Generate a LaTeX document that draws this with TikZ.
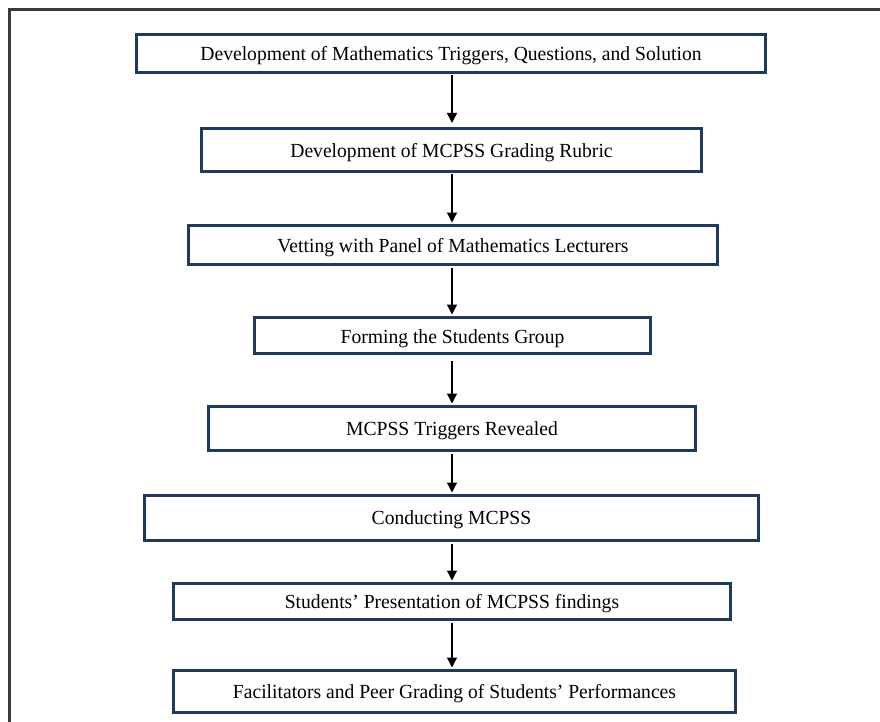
\documentclass[tikz,border=0pt]{standalone}
\usepackage{fontspec}
\setmainfont{Liberation Serif}[FakeStretch=0.98]
\usetikzlibrary{arrows.meta}
\definecolor{boxblue}{HTML}{1F3A5C}
\definecolor{framegray}{HTML}{3A3A3A}
\tikzset{
  stepbox/.style={draw=boxblue, line width=3pt, fill=white, inner sep=0pt,
    font=\fontsize{20}{22}\selectfont, text depth=0pt, anchor=center},
  flowarrow/.style={draw=black, line width=1.3pt, -{Triangle[length=10pt,width=10pt]}},
  framestyle/.style={draw=framegray, line width=2.5pt}
}
\begin{document}
\begin{tikzpicture}[x=1pt,y=-1pt]
\useasboundingbox (0,0) rectangle (880,722);
\fill[white] (0,0) rectangle (880,722);
\coordinate (fc) at (9.5,9.5);
\coordinate (fr) at (880,9.5);
\coordinate (fb) at (9.5,722);
\draw[framestyle] (fb) -- (fc) -- (fr);

\node[stepbox, minimum width=629pt, minimum height=38pt] (b1) at (451,53.5)
  {Development of Mathematics Triggers, Questions, and Solution};
\node[stepbox, minimum width=500pt, minimum height=43pt] (b2) at (451.5,150)
  {Development of MCPSS Grading Rubric};
\node[stepbox, minimum width=529pt, minimum height=39pt] (b3) at (453,245)
  {Vetting with Panel of Mathematics Lecturers};
\node[stepbox, minimum width=396pt, minimum height=36pt] (b4) at (452.5,335.5)
  {\raisebox{-3pt}{Forming the Students Group}};
\node[stepbox, minimum width=487pt, minimum height=44pt] (b5) at (452,428.5)
  {MCPSS Triggers Revealed};
\node[stepbox, minimum width=614pt, minimum height=45pt] (b6) at (451.5,518)
  {Conducting MCPSS};
\node[stepbox, minimum width=557pt, minimum height=36pt] (b7) at (452,601.5)
  {Students’ Presentation of MCPSS findings};
\node[stepbox, minimum width=562pt, minimum height=42pt] (b8) at (454.5,691.5)
  {Facilitators and Peer Grading of Students’ Performances};

\coordinate (xl) at (452,0);
\draw[flowarrow] ([yshift=-1.5pt]b1.south -| xl) -- ([yshift=4pt]b2.north -| xl);
\draw[flowarrow] ([yshift=-1.5pt]b2.south -| xl) -- ([yshift=1.5pt]b3.north -| xl);
\draw[flowarrow] ([yshift=-1.5pt]b3.south -| xl) -- ([yshift=1.5pt]b4.north -| xl);
\draw[flowarrow] ([yshift=-6pt]b4.south -| xl) -- ([yshift=1.5pt]b5.north -| xl);
\draw[flowarrow] ([yshift=-1.5pt]b5.south -| xl) -- ([yshift=1.5pt]b6.north -| xl);
\draw[flowarrow] ([yshift=-1.5pt]b6.south -| xl) -- ([yshift=1.5pt]b7.north -| xl);
\draw[flowarrow] ([yshift=-1.5pt]b7.south -| xl) -- ([yshift=1.5pt]b8.north -| xl);
\end{tikzpicture}
\end{document}
